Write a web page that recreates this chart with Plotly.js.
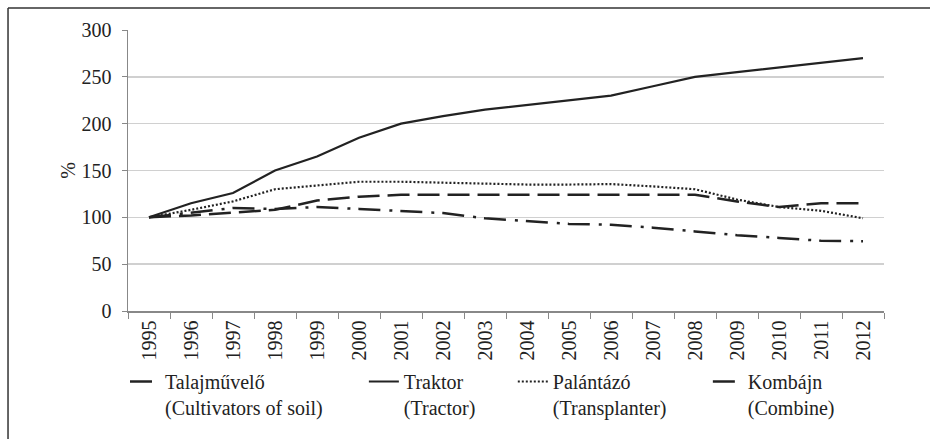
<!DOCTYPE html>
<html>
<head>
<meta charset="utf-8">
<script src="https://cdn.plot.ly/plotly-3.0.1.min.js"></script>
<style>
html,body{margin:0;padding:0;background:#fff;}
#chart{width:930px;height:439px;}
</style>
</head>
<body>
<div id="chart"></div>
<script>
const years = ["1995","1996","1997","1998","1999","2000","2001","2002","2003","2004","2005","2006","2007","2008","2009","2010","2011","2012"];
const talajmuvelo = [100,105,110,109,111,109,107,104.5,99,96,93,92,89,85,81,78,75,74.5];
const traktor     = [100,115,126,150,165,185,200,208,215,220,225,230,240,250,255,260,265,270];
const palantazo   = [100,108,117,130,134,138,138,137,135.5,135,135,135.5,133,130,119,111,107,99];
const kombajn     = [100,102,105,108,118,122,124,124,124,124,124,124,124,124,117,111,115,115];
const names = ["Talajművelő<br>(Cultivators of soil)","Traktor<br>(Tractor)","Palántázó<br>(Transplanter)","Kombájn<br>(Combine)"];

const serif = "'Liberation Serif', 'DejaVu Serif', serif";
const ink = "#222";

const traces = [
  {x: years, y: talajmuvelo, name: names[0], legend: "legend",
   line: {color: ink, width: 2.5, dash: "22px,9px,3px,8px"}},
  {x: years, y: traktor, name: names[1], legend: "legend2",
   line: {color: ink, width: 2.2, dash: "solid"}},
  {x: years, y: palantazo, name: names[2], legend: "legend3",
   line: {color: ink, width: 2.2, dash: "2px,2px"}},
  {x: years, y: kombajn, name: names[3], legend: "legend4",
   line: {color: ink, width: 2.5, dash: "22px,8px"}}
].map(t => Object.assign({type: "scatter", mode: "lines"}, t));

const legBase = {orientation: "v", yanchor: "top", xanchor: "left", y: -0.1815,
  bgcolor: "rgba(0,0,0,0)", font: {family: serif, size: 20, color: ink}, valign: "top"};

const layout = {
  width: 930, height: 439,
  margin: {l: 128, r: 46, t: 30, b: 128},
  paper_bgcolor: "#fff", plot_bgcolor: "#fff",
  font: {family: serif, size: 20, color: ink},
  showlegend: true,
  legend:  Object.assign({}, legBase, {x: -0.004}),
  legend2: Object.assign({}, legBase, {x: 0.312}),
  legend3: Object.assign({}, legBase, {x: 0.509}),
  legend4: Object.assign({}, legBase, {x: 0.767}),
  xaxis: {
    type: "category", range: [-0.5, 17.5],
    tickangle: -90, tickson: "boundaries", ticks: "outside", ticklen: 6,
    tickcolor: "#888", showline: true, linecolor: "#888", linewidth: 1.5,
    showgrid: false, zeroline: false,
    tickfont: {family: serif, size: 20, color: ink}
  },
  yaxis: {
    range: [0, 300], dtick: 50, ticks: "outside", ticklen: 5, tickcolor: "#888",
    showline: true, linecolor: "#888", linewidth: 1.5, ticklabelstandoff: 6,
    showgrid: true, gridcolor: "#d0d0d0", gridwidth: 1.5, zeroline: false,
    tickfont: {family: serif, size: 20, color: ink},
    title: {text: "%", font: {family: serif, size: 20, color: ink}, standoff: 0}
  },
  shapes: [
    {type: "line", xref: "paper", yref: "paper", x0: -0.1587, x1: -0.1587, y0: 1.0783, y1: -0.6,
     line: {color: "#333", width: 1.5}},
    {type: "line", xref: "paper", yref: "paper", x0: -0.1587, x1: 1.1, y0: 1.0783, y1: 1.0783,
     line: {color: "#333", width: 1.5}}
  ]
};

Plotly.newPlot("chart", traces, layout, {displayModeBar: false, staticPlot: true});
</script>
</body>
</html>
